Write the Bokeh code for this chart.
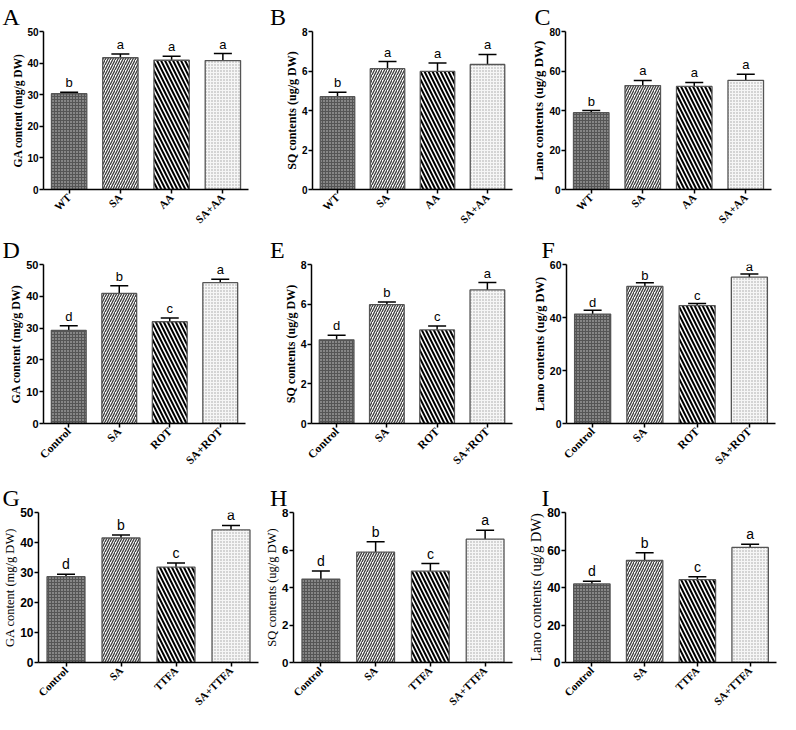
import math
from bokeh.plotting import figure
from bokeh.models import FactorRange, Range1d, FixedTicker, Whisker, TeeHead, ColumnDataSource, LabelSet
from bokeh.layouts import column, row
from bokeh.embed import file_html
from bokeh.resources import INLINE
from bokeh.core.properties import value

# ---------------- data ----------------
groups_aa = ["WT", "SA", "AA", "SA+AA"]
groups_rot = ["Control", "SA", "ROT", "SA+ROT"]
groups_ttfa = ["Control", "SA", "TTFA", "SA+TTFA"]

ga_aa = [30.3, 41.7, 40.9, 40.8]
ga_aa_err = [0.5, 1.2, 1.3, 2.2]
sq_aa = [4.70, 6.12, 5.98, 6.33]
sq_aa_err = [0.23, 0.36, 0.42, 0.51]
lano_aa = [38.9, 52.6, 52.2, 55.3]
lano_aa_err = [1.1, 2.6, 2.0, 3.0]
sig_aa = ["b", "a", "a", "a"]

ga_rot = [29.3, 40.9, 32.0, 44.3]
ga_rot_err = [1.4, 2.4, 1.2, 1.1]
sq_rot = [4.21, 5.98, 4.71, 6.72]
sq_rot_err = [0.23, 0.13, 0.20, 0.37]
lano_rot = [41.3, 51.7, 44.5, 55.2]
lano_rot_err = [1.4, 1.4, 0.8, 1.2]
sig_rot = ["d", "b", "c", "a"]

ga_ttfa = [28.6, 41.5, 31.8, 44.2]
ga_ttfa_err = [0.8, 1.0, 1.4, 1.5]
sq_ttfa = [4.45, 5.89, 4.87, 6.58]
sq_ttfa_err = [0.43, 0.55, 0.41, 0.47]
lano_ttfa = [41.9, 54.4, 44.2, 61.4]
lano_ttfa_err = [1.4, 4.2, 1.5, 1.7]
sig_ttfa = ["d", "b", "c", "a"]

ga_ticks = [0, 10, 20, 30, 40, 50]
sq_ticks = [0, 2, 4, 6, 8]
lano_ticks_80 = [0, 20, 40, 60, 80]
lano_ticks_60 = [0, 20, 40, 60]

ylabel_ga = "GA content (mg/g DW)"
ylabel_sq = "SQ contents (ug/g DW)"
ylabel_lano = "Lano contents (ug/g DW)"

# ---------------- styles ----------------
bar_fill = ["#555555", "#ffffff", "#ffffff", "#f6f6f6"]
bar_hatch = ["dot", "right_diagonal_line", "left_diagonal_line", "dot"]
bar_hatch_color = ["#cfcfcf", "#3c3c3c", "#000000", "#a0a0a0"]
bar_hatch_scale = [3, 5, 8, 3]
bar_hatch_weight = [1.3, 1.3, 2.0, 1.0]

SX = 780 / 796
SY = 714 / 730
COL_X = [8, 270, 527]
COL_W = [262, 257, 261]
ROW_Y = [8, 240, 485]
ROW_H = [232, 245, 237]


def fx(rx, c):
    return 8 + rx * SX - COL_X[c]


def fy(ry, r):
    return 8 + ry * SY - ROW_Y[r]


def panel(r, c, letter, lpos, geom, cats, vals, errs, sig, ymax, ticks,
          ylabel, ylab_size, ylab_bold, tick_size, xlab_size, sig_size, tight=False):
    L = round(fx(geom[0], c))
    R = COL_W[c] - round(fx(geom[1], c))
    T = round(fy(geom[2], r))
    Z = round(fy(geom[3], r))
    B = ROW_H[r] - Z
    p = figure(width=COL_W[c], height=ROW_H[r],
               x_range=FactorRange(factors=cats), y_range=Range1d(0, ymax),
               output_backend="svg", toolbar_location=None,
               min_border_left=L, min_border_right=R,
               min_border_top=T, min_border_bottom=B)
    p.outline_line_color = None
    p.xgrid.visible = False
    p.ygrid.visible = False
    p.background_fill_color = "white"
    p.border_fill_color = "white"

    # panel letter as the figure title
    p.title.text = letter
    p.title.text_font = "Liberation Serif"
    p.title.text_font_size = "24px"
    p.title.text_font_style = "normal"
    p.title.text_color = "black"
    p.title.align = "left"
    p.title.offset = fx(lpos[0], c) - L
    p.title.standoff = 3

    for i in range(len(cats)):
        p.vbar(x=[cats[i]], top=[vals[i]], bottom=0, width=0.69,
               fill_color=bar_fill[i], line_color="#555555", line_width=1.3,
               hatch_pattern=bar_hatch[i], hatch_color=bar_hatch_color[i],
               hatch_scale=bar_hatch_scale[i], hatch_weight=bar_hatch_weight[i])

    upper = [v + e for v, e in zip(vals, errs)]
    src = ColumnDataSource(dict(x=cats, lower=vals, upper=upper, sig=sig))
    w = Whisker(source=src, base="x", lower="lower", upper="upper",
                dimension="height", line_color="black", line_width=1.5,
                lower_head=None,
                upper_head=TeeHead(size=18, line_width=1.5, line_color="black"))
    p.add_layout(w)
    p.add_layout(LabelSet(x="x", y="upper", text="sig", source=src,
                          text_align="center",
                          text_baseline="alphabetic" if tight else "bottom",
                          y_offset=3 if tight else 2,
                          text_font=value("Liberation Sans"),
                          text_font_size=value(f"{sig_size}px"),
                          text_color="black"))

    ya = p.yaxis[0]
    ya.ticker = FixedTicker(ticks=ticks)
    ya.minor_tick_line_color = None
    ya.major_tick_out = 4
    ya.major_tick_in = 0
    ya.axis_line_width = 1.5
    ya.major_tick_line_width = 1.5
    ya.axis_line_color = "black"
    ya.major_label_text_font = "Liberation Sans"
    ya.major_label_text_font_style = "bold"
    ya.major_label_text_font_size = f"{tick_size}px"
    ya.major_label_text_color = "black"
    ya.major_label_standoff = 1
    ya.axis_label = ylabel
    ya.axis_label_text_font = "Liberation Serif"
    ya.axis_label_text_font_style = "bold" if ylab_bold else "normal"
    ya.axis_label_text_font_size = f"{ylab_size}px"
    ya.axis_label_text_color = "black"
    ya.axis_label_standoff = 0

    xa = p.xaxis[0]
    xa.major_label_orientation = math.pi / 4
    xa.major_label_text_font = "Liberation Serif"
    xa.major_label_text_font_style = "bold"
    xa.major_label_text_font_size = f"{xlab_size}px"
    xa.major_label_text_color = "black"
    xa.major_label_standoff = 2
    xa.major_tick_out = 4
    xa.major_tick_in = 0
    xa.axis_line_width = 1.5
    xa.major_tick_line_width = 1.5
    xa.axis_line_color = "black"
    return p


pA = panel(0, 0, "A", (2, 22), (44, 253, 32, 195), groups_aa, ga_aa, ga_aa_err, sig_aa,
           50, ga_ticks, ylabel_ga, 11.5, True, 10, 11, 13)
pB = panel(0, 1, "B", (275, 22), (318, 523, 32, 195), groups_aa, sq_aa, sq_aa_err, sig_aa,
           8, sq_ticks, ylabel_sq, 12, True, 10, 11, 13)
pC = panel(0, 2, "C", (545, 22), (577, 787, 32, 195), groups_aa, lano_aa, lano_aa_err, sig_aa,
           80, lano_ticks_80, ylabel_lano, 13, True, 10, 11, 13)
pD = panel(1, 0, "D", (2, 262), (44, 250, 270, 432), groups_rot, ga_rot, ga_rot_err, sig_rot,
           50, ga_ticks, ylabel_ga, 12, True, 11, 11.5, 13)
pE = panel(1, 1, "E", (275, 262), (317, 523, 270, 432), groups_rot, sq_rot, sq_rot_err, sig_rot,
           8, sq_ticks, ylabel_sq, 12, True, 10.5, 11.5, 13)
pF = panel(1, 2, "F", (552, 262), (578, 791, 270, 432), groups_rot, lano_rot, lano_rot_err, sig_rot,
           60, lano_ticks_60, ylabel_lano, 12.5, True, 10.5, 11.5, 13, tight=True)
pG = panel(2, 0, "G", (2, 512), (39, 263, 523, 677), groups_ttfa, ga_ttfa, ga_ttfa_err, sig_ttfa,
           50, ga_ticks, ylabel_ga, 12.5, False, 12, 11, 14)
pH = panel(2, 1, "H", (273, 512), (297, 523, 523, 677), groups_ttfa, sq_ttfa, sq_ttfa_err, sig_ttfa,
           8, sq_ticks, ylabel_sq, 12.5, False, 11.5, 11, 14)
pI = panel(2, 2, "I", (552, 512), (577, 792, 523, 677), groups_ttfa, lano_ttfa, lano_ttfa_err, sig_ttfa,
           80, lano_ticks_80, ylabel_lano, 14.5, False, 12, 11, 14)

layout = column(row(pA, pB, pC), row(pD, pE, pF), row(pG, pH, pI))

open("out.html", "w").write(file_html(layout, INLINE))
